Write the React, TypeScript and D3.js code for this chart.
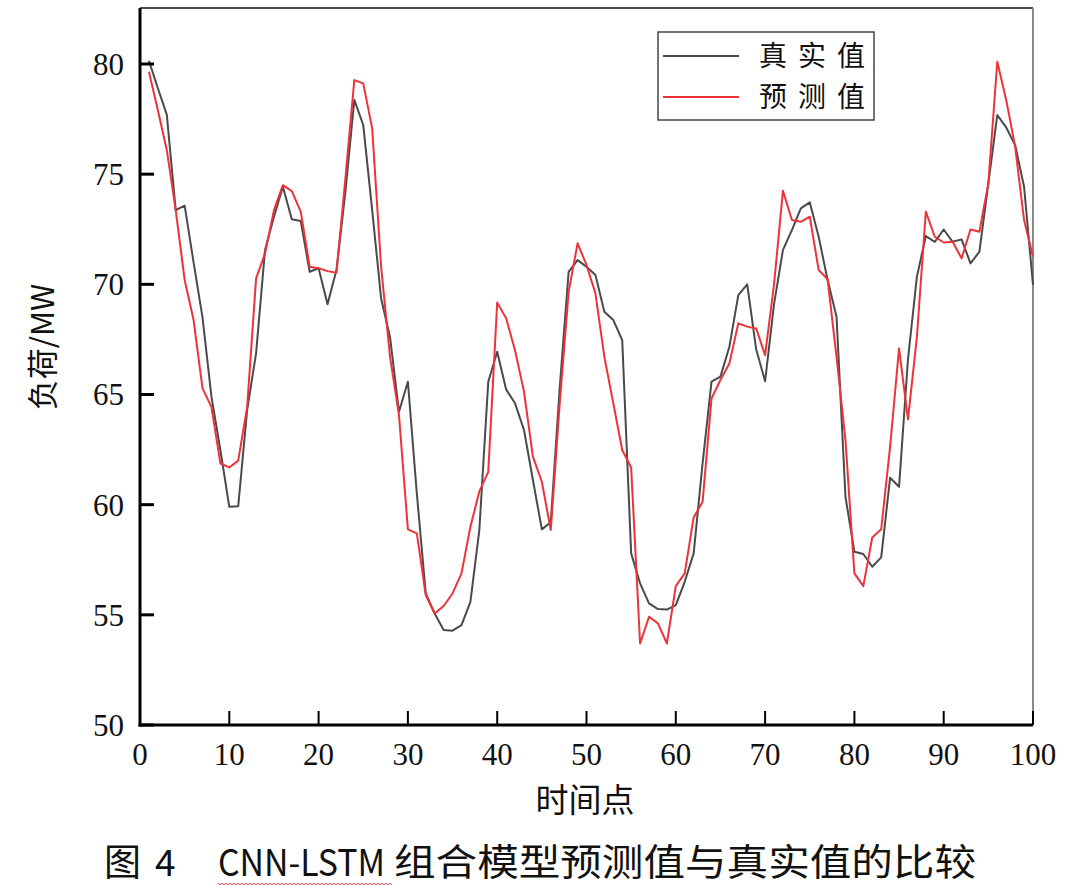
import React from "react";
import * as d3 from "d3";

const timePoints: number[] = Array.from({ length: 100 }, (_, i) => i + 1);

const actualValues: number[] = [
  80.15, 78.9, 77.7, 73.37, 73.57, 71.0, 68.5, 64.9, 62.48, 59.9,
  59.93, 64.3, 66.87, 71.56, 73.07, 74.43, 72.95, 72.87, 70.57, 70.73,
  69.1, 70.65, 74.2, 78.37, 77.23, 73.37, 69.36, 67.6, 64.22, 65.58,
  60.51, 55.97, 55.06, 54.31, 54.28, 54.53, 55.59, 58.85, 65.58, 66.94,
  65.23, 64.6, 63.39, 61.12, 58.88, 59.2, 65.3, 70.57, 71.1, 70.8,
  70.42, 68.76, 68.38, 67.47, 57.79, 56.43, 55.52, 55.26, 55.24, 55.44,
  56.5, 57.79, 61.87, 65.58, 65.81, 67.17, 69.51, 70.0, 67.05, 65.6,
  69.1, 71.56, 72.46, 73.45, 73.72, 72.16, 70.2, 68.53, 60.36, 57.86,
  57.76, 57.18, 57.61, 61.22, 60.81, 66.6, 70.35, 72.19, 71.93, 72.49,
  71.93, 72.04, 70.95, 71.48, 74.58, 77.68, 77.12, 76.32, 74.43, 69.97,
];

const predictedValues: number[] = [
  79.65, 77.9, 76.1, 73.37, 70.2, 68.38, 65.28, 64.44, 61.87, 61.69,
  62.0, 64.44, 70.27, 71.4, 73.37, 74.5, 74.23, 73.3, 70.8, 70.73,
  70.6, 70.53, 74.8, 79.27, 79.12, 77.08, 70.8, 66.71, 64.07, 58.88,
  58.7, 55.9, 55.06, 55.4, 55.97, 56.88, 59.0, 60.6, 61.49, 69.17,
  68.46, 67.0, 65.13, 62.18, 61.04, 58.85, 64.6, 69.66, 71.86, 70.88,
  69.59, 66.71, 64.6, 62.48, 61.69, 53.7, 54.91, 54.61, 53.7, 56.3,
  56.88, 59.42, 60.13, 64.82, 65.66, 66.41, 68.23, 68.08, 68.0, 66.79,
  70.0, 74.25, 72.92, 72.84, 73.07, 70.65, 70.23, 66.71, 62.93, 56.88,
  56.3, 58.51, 58.88, 62.63, 67.09, 63.87, 67.62, 73.3, 72.16, 71.9,
  71.93, 71.18, 72.49, 72.39, 74.58, 80.1, 78.37, 76.25, 72.92, 71.25,
];

const xTicks: number[] = [0, 10, 20, 30, 40, 50, 60, 70, 80, 90, 100];
const yTicks: number[] = [50, 55, 60, 65, 70, 75, 80];

const seriesNames: string[] = ["真实值", "预测值"];
const seriesColors: string[] = ["#4a4a4a", "#ee3338"];

const xLabel = "时间点";
const yLabel = "负荷/MW";
const captionFig = "图";
const captionNum = "4";
const captionModel = "CNN-LSTM";
const captionRest = "组合模型预测值与真实值的比较";

const W = 1080;
const H = 890;
const left = 140;
const right = 1033;
const bottom = 725;
const frameTop = 8;

export default function App() {
  const x = d3.scaleLinear().domain([0, 100]).range([left, right]);
  const y = d3.scaleLinear().domain([50, 80]).range([bottom, 64]);

  const line = d3
    .line<number>()
    .x((_, i) => x(timePoints[i]))
    .y((d) => y(d));

  const serifFont = "'Liberation Serif', 'Times New Roman', serif";
  const cjkFont = "'Noto Sans CJK SC', sans-serif";

  // wavy underline under CNN-LSTM
  const wavePts: [number, number][] = [];
  for (let px = 218; px <= 392; px += 2) {
    wavePts.push([px, 884 + (((px - 218) / 2) % 2 === 0 ? -1 : 1)]);
  }
  const wave = d3.line()(wavePts) || "";

  return (
    <svg
      width={W}
      height={H}
      style={{ position: "absolute", left: 0, top: 0, background: "#fff" }}
    >
      <rect x={0} y={0} width={W} height={H} fill="#fff" />
      {/* frame */}
      <line x1={left} x2={right} y1={frameTop} y2={frameTop} stroke="#111" strokeWidth={1.5} />
      <line x1={right} x2={right} y1={frameTop} y2={bottom} stroke="#888" strokeWidth={2} />

      {/* series */}
      <path d={line(actualValues) || ""} fill="none" stroke={seriesColors[0]} strokeWidth={2} strokeLinejoin="round" />
      <path d={line(predictedValues) || ""} fill="none" stroke={seriesColors[1]} strokeWidth={2} strokeLinejoin="round" />

      {/* axes */}
      <line x1={left} x2={left} y1={frameTop} y2={bottom + 1.5} stroke="#000" strokeWidth={3} />
      <line x1={left - 1.5} x2={right} y1={bottom} y2={bottom} stroke="#000" strokeWidth={3} />

      {yTicks.map((t) => (
        <g key={"y" + t}>
          <line x1={left} x2={left + 14} y1={y(t)} y2={y(t)} stroke="#000" strokeWidth={3} />
          <text
            x={left - 16}
            y={y(t)}
            dy="0.35em"
            textAnchor="end"
            fontFamily={serifFont}
            fontSize={31}
            fill="#111"
          >
            {t}
          </text>
        </g>
      ))}
      {xTicks.map((t) => (
        <g key={"x" + t}>
          <line x1={x(t)} x2={x(t)} y1={bottom} y2={bottom - 14} stroke="#000" strokeWidth={2} />
          <text
            x={x(t)}
            y={765}
            textAnchor="middle"
            fontFamily={serifFont}
            fontSize={31}
            fill="#111"
          >
            {t}
          </text>
        </g>
      ))}

      {/* axis titles */}
      <text x={585} y={812} textAnchor="middle" fontFamily={cjkFont} fontSize={33} fill="#111">
        {xLabel}
      </text>
      <text
        transform="translate(54,347) rotate(-90)"
        textAnchor="middle"
        fontFamily={cjkFont}
        fontSize={31}
        fill="#111"
      >
        {yLabel}
      </text>

      {/* legend */}
      <rect x={658} y={32} width={216} height={88} fill="#fff" stroke="#444" strokeWidth={1.5} />
      {seriesNames.map((n, i) => (
        <g key={n}>
          <line
            x1={663}
            x2={739}
            y1={56 + i * 41}
            y2={56 + i * 41}
            stroke={seriesColors[i]}
            strokeWidth={2}
          />
          <text
            x={759}
            y={56 + i * 41}
            dy="0.36em"
            fontFamily={cjkFont}
            fontSize={28}
            textLength={106}
            lengthAdjust="spacing"
            fill="#111"
          >
            {n}
          </text>
        </g>
      ))}

      {/* caption */}
      <g fontFamily={cjkFont} fontSize={37} fill="#111">
        <text x={104} y={876}>{captionFig}</text>
        <text x={155} y={876}>{captionNum}</text>
        <text x={218} y={876} textLength={167} lengthAdjust="spacingAndGlyphs">
          {captionModel}
        </text>
        <text x={394} y={876} textLength={582} lengthAdjust="spacingAndGlyphs">
          {captionRest}
        </text>
      </g>
      <path d={wave} fill="none" stroke="#e05050" strokeWidth={1} />
    </svg>
  );
}
